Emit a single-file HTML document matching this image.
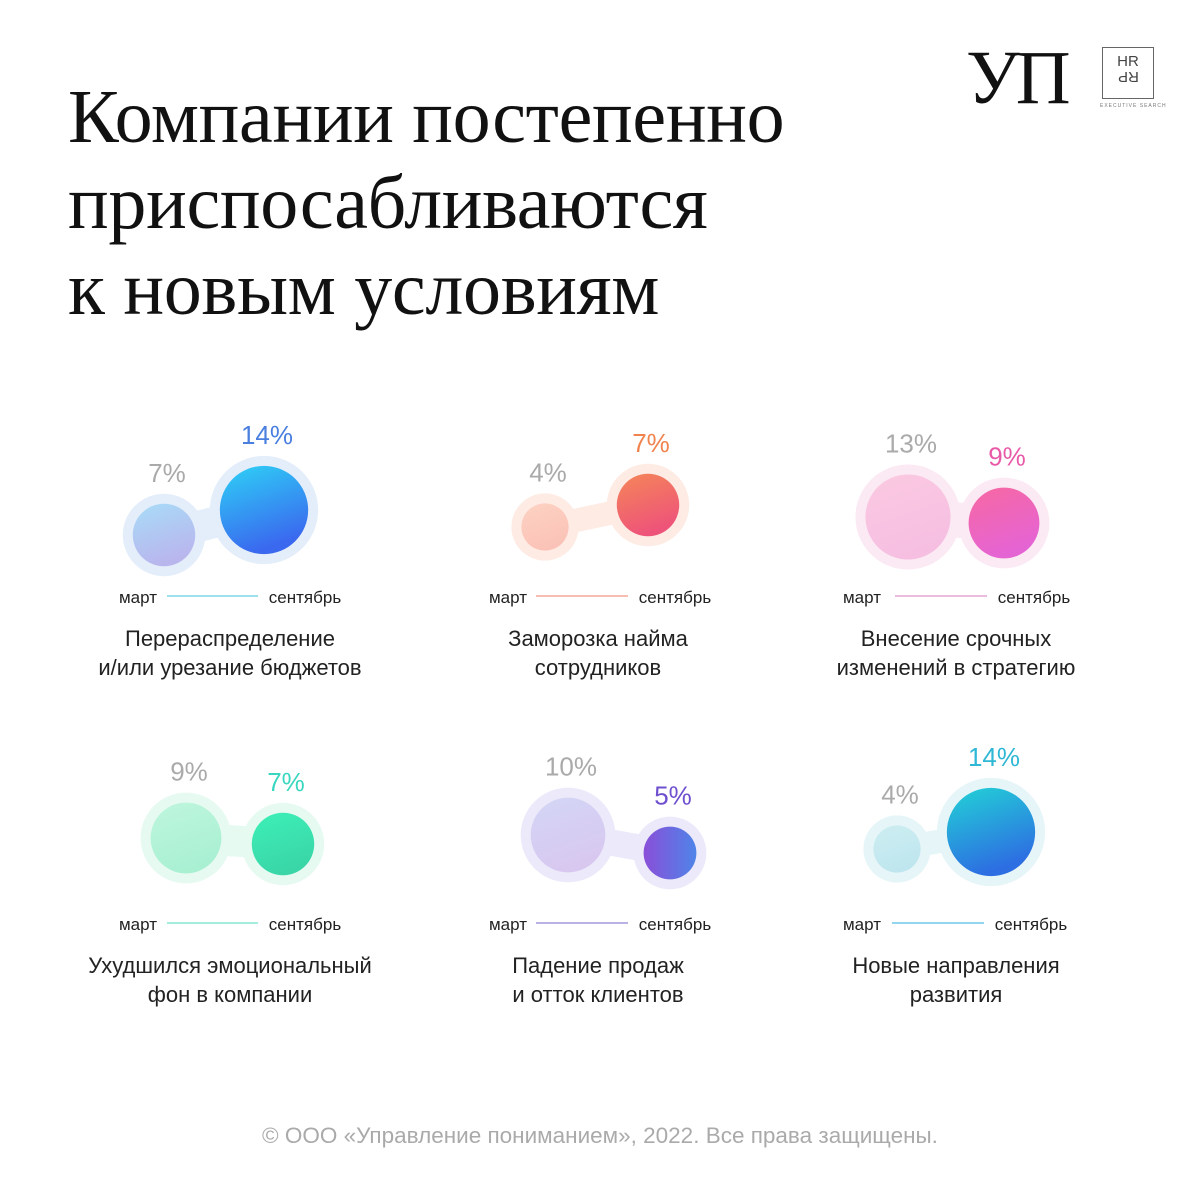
<!DOCTYPE html>
<html><head><meta charset="utf-8">
<style>
html,body{margin:0;padding:0;background:#fff;}
#root{position:relative;width:1200px;height:1200px;overflow:hidden;background:#fff;font-family:"Liberation Sans","Noto Sans CJK SC",sans-serif;}
h1{position:absolute;left:68px;top:74px;margin:0;font-family:"Liberation Serif","Noto Serif CJK SC",serif;font-weight:normal;font-size:76px;line-height:86px;color:#111;letter-spacing:-0.3px;}
.copy{position:absolute;left:0;width:1200px;top:1123px;text-align:center;font-size:22.5px;color:#aaa;}
svg{position:absolute;left:0;top:0;}
</style></head>
<body>
<div id="root">
<h1>Компании постепенно<br>приспосабливаются<br>к новым условиям</h1>
<div style="position:absolute;left:966px;top:40px;font-family:'Liberation Serif',serif;font-size:76px;line-height:76px;color:#111;letter-spacing:-4px;">УП</div>
<div style="position:absolute;left:1102px;top:47px;width:52px;height:52px;border:1.5px solid #666;box-sizing:border-box;font-size:15px;line-height:15px;text-align:center;color:#444;padding-top:6px;">HR<br><span style="display:inline-block;transform:rotate(180deg)">RP</span></div>
<div style="position:absolute;left:1100px;top:103px;font-size:5px;color:#777;letter-spacing:1px;">EXECUTIVE SEARCH</div>
<svg id="chart" width="1200" height="1200"></svg>
<div class="copy">© ООО «Управление пониманием», 2022. Все права защищены.</div>
</div>
<script>
const categories = ["Перераспределение|и/или урезание бюджетов","Заморозка найма|сотрудников","Внесение срочных|изменений в стратегию","Ухудшился эмоциональный|фон в компании","Падение продаж|и отток клиентов","Новые направления|развития"];
const marchValues = [7,4,13,9,10,4];
const septValues = [14,7,9,7,5,14];
const periodLabels = ["март","сентябрь"];

const NS="http://www.w3.org/2000/svg";
const svg=document.getElementById('chart');
const slotX=[[164,264],[545,648],[908,1004],[186,283],[568,670],[897,991]];
const slotY=[[535,510],[527,505],[517,523],[838,844],[835,853],[849,832]];
const titleX=[230,598,956,230,598,956];
const lineY=[596,596,596,923,923,923];
const lineX=[[167,258],[536,628],[895,987],[167,258],[536,628],[892,984]];
const marchLabelX=[138,508,862,138,508,862];
const septLabelX=[305,675,1034,305,675,1031];
const palette=[
 {halo:"#e4eefa",m:["#a8dcf7","#b9b6ee"],s:["#2ed2f6","#3a68ef"],txt:"#4a7fe0",line:"#7fd6e6"},
 {halo:"#fdebe4",m:["#fdd2c3","#fbc3b8"],s:["#f58658","#ee5479"],txt:"#f0834e",line:"#f2a895"},
 {halo:"#fbe9f3",m:["#fbc9e1","#f6bfe2"],s:["#f768a2","#e564d4"],txt:"#e85aa8",line:"#e6a6d3"},
 {halo:"#e6faf1",m:["#bff6dd","#a9f0d3"],s:["#3df0b7","#3ad6a8"],txt:"#3ad7c0",line:"#85e6d2"},
 {halo:"#ece9fa",m:["#d3d6f6","#d8c8f0"],s:["#8a4fd8","#4f84e8"],txt:"#6e4fcf",line:"#a09ad8"},
 {halo:"#e6f5f8",m:["#cdeef2","#bfe6ee"],s:["#22d3d6","#2d6ee2"],txt:"#2fb8d6",line:"#6fc9e8"}
];
function rScale(v){return 11.8*Math.sqrt(v);}
function el(tag,attrs,parent){const e=document.createElementNS(NS,tag);for(const k in attrs)e.setAttribute(k,attrs[k]);(parent||svg).appendChild(e);return e;}
const defs=el('defs',{});
categories.forEach((cat,i)=>{
  const p=palette[i];
  const g=el('g',{});
  
  
  const vals=[marchValues[i],septValues[i]];
  const rs=vals.map(rScale);
  const cy=slotY[i];
  const cx=slotX[i];
  const neck=el('line',{x1:cx[0],y1:cy[0],x2:cx[1],y2:cy[1],stroke:p.halo,'stroke-width':Math.min(rs[0],rs[1])*1.0},g);
  
  
  vals.forEach((v,j)=>{
    const r=rs[j];
    const halo=el('circle',{cx:cx[j],cy:cy[j],r:r+10,fill:p.halo},g);
    
    
    const gid='gr'+i+'_'+j;const cols=j?p.s:p.m;
    const lg=el('linearGradient',{id:gid,x1:'0',y1:'0',x2:(i==4&&j==1)?'1':'0.35',y2:(i==4&&j==1)?'0':'1'},defs);
    el('stop',{offset:'0','stop-color':cols[0]},lg);el('stop',{offset:'1','stop-color':cols[1]},lg);
    const c=el('circle',{cx:cx[j],cy:cy[j],r:r,fill:'url(#'+gid+')'},g);
    
    
    const t=el('text',{x:cx[j]+3,y:cy[j]-r-22,'text-anchor':'middle','font-size':26,fill:j?p.txt:'#aaaaaa','font-family':'Liberation Sans, sans-serif'},g);
    t.textContent=v+'%';
    
    
  });
  const ln=el('line',{x1:lineX[i][0],y1:lineY[i],x2:lineX[i][1],y2:lineY[i],stroke:p.line,'stroke-width':1.5},g);
  
  
  const ml=el('text',{x:marchLabelX[i],y:lineY[i]+7,'text-anchor':'middle','font-size':17,fill:'#222'},g);
  ml.textContent=periodLabels[0];
  
  
  const sl=el('text',{x:septLabelX[i],y:lineY[i]+7,'text-anchor':'middle','font-size':17,fill:'#222'},g);
  sl.textContent=periodLabels[1];
  
  
  cat.split('|').forEach((line,k)=>{
    const tt=el('text',{x:titleX[i],y:lineY[i]+50+k*29,'text-anchor':'middle','font-size':22,fill:'#222'},g);
    tt.textContent=line;
    
    
  });
});
</script>
</body></html>
